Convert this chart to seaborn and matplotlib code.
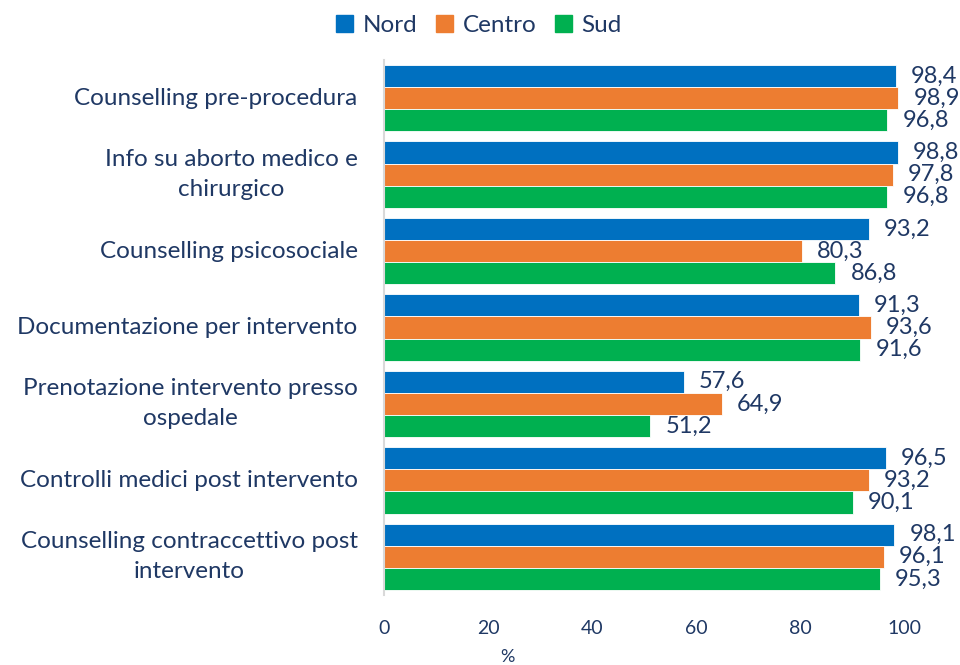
import matplotlib
matplotlib.use("Agg")
import matplotlib.pyplot as plt
import pandas as pd
import seaborn as sns

categories = [
    "Counselling pre-procedura",
    "Info su aborto medico e\nchirurgico",
    "Counselling psicosociale",
    "Documentazione per intervento",
    "Prenotazione intervento presso\nospedale",
    "Controlli medici post intervento",
    "Counselling contraccettivo post\nintervento",
]
nord = [98.4, 98.8, 93.2, 91.3, 57.6, 96.5, 98.1]
centro = [98.9, 97.8, 80.3, 93.6, 64.9, 93.2, 96.1]
sud = [96.8, 96.8, 86.8, 91.6, 51.2, 90.1, 95.3]
areas = ["Nord", "Centro", "Sud"]
x_ticks = [0, 20, 40, 60, 80, 100]

COLORS = {"Nord": "#0070C0", "Centro": "#ED7D31", "Sud": "#00B050"}
TEXT = "#1F3864"
LABEL_SIZE = 17.5
LINE_H = 21.5  # points between wrapped lines

df = pd.DataFrame({
    "categoria": categories * 3,
    "area": [a for a in areas for _ in categories],
    "valore": nord + centro + sud,
})

sns.set_style("white")
plt.rcParams["font.family"] = ["Lato", "DejaVu Sans"]

fig = plt.figure(figsize=(9.6, 6.65), dpi=100)
ax = fig.add_axes([0.400, 0.1053, 0.5417, 0.8045])

sns.barplot(data=df, y="categoria", x="valore", hue="area", order=categories,
            hue_order=areas, palette=COLORS, saturation=1, orient="h", width=0.87,
            edgecolor="white", linewidth=0.6, ax=ax, legend=False)

for cont in ax.containers:
    labels = [f"{b.get_width():.1f}".replace(".", ",") for b in cont]
    ax.bar_label(cont, labels=labels, padding=11, fontsize=17, color=TEXT)

ax.set_xlim(0, 100)
ax.set_xticks(x_ticks)
ax.set_xlabel("")
ax.set_ylabel("")
ax.tick_params(axis="x", length=0, pad=18, labelsize=14, colors=TEXT)
ax.tick_params(axis="y", length=0, labelleft=False)

# category labels: the longest line is right-aligned next to the axis,
# the other lines are centred on it
for i, cat in enumerate(categories):
    lines = cat.split("\n")
    n = len(lines)
    k_main = max(range(n), key=lambda k: len(lines[k]))
    main = ax.annotate(lines[k_main], xy=(0, i), xycoords=("axes fraction", "data"),
                       xytext=(-19, ((n - 1) / 2 - k_main) * LINE_H),
                       textcoords="offset points", ha="right", va="center",
                       fontsize=LABEL_SIZE, color=TEXT)
    for k, line in enumerate(lines):
        if k == k_main:
            continue
        ax.annotate(line, xy=(0.5, 0.5), xycoords=main,
                    xytext=(0, (k_main - k) * LINE_H), textcoords="offset points",
                    ha="center", va="center", fontsize=LABEL_SIZE, color=TEXT)

for side in ["top", "right", "bottom"]:
    ax.spines[side].set_visible(False)
ax.spines["left"].set_color("#D9D9D9")
ax.spines["left"].set_linewidth(1.5)
ax.grid(False)

handles = [plt.Rectangle((0, 0), 1, 1, color=COLORS[a]) for a in areas]
leg = fig.legend(handles, areas, loc="upper center", bbox_to_anchor=(0.499, 1.011),
                 ncol=3, frameon=False, fontsize=17.5, handlelength=0.7,
                 handleheight=0.7, handletextpad=0.4, columnspacing=0.75)
for t in leg.get_texts():
    t.set_color(TEXT)

fig.text(507 / 960, 1 - 657 / 665, "%", ha="center", va="center",
         fontsize=13, color=TEXT)

fig.savefig("out.png", dpi=100)
